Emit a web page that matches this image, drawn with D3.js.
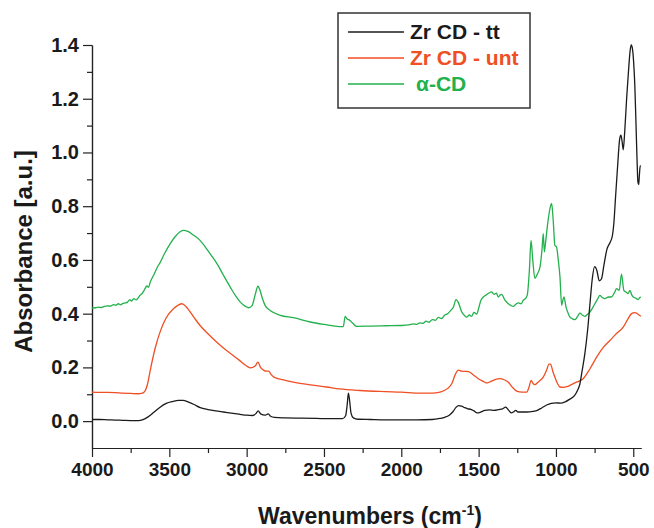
<!DOCTYPE html>
<html>
<head>
<meta charset="utf-8">
<script src="https://cdn.jsdelivr.net/npm/d3@7"></script>
<style>
  body { margin: 0; background: #fff; }
  svg text { font-family: "Liberation Sans", Arial, sans-serif; font-weight: bold; }
</style>
</head>
<body>
<div id="chart"></div>
<script>
// data
var seriesNames = ["Zr CD - tt", "Zr CD - unt", "\u03b1-CD"];
var seriesColors = ["#1b1b1b", "#f04e23", "#22b14c"];

var yTicks = [0.0, 0.2, 0.4, 0.6, 0.8, 1.0, 1.2, 1.4];
var xTicks = [4000, 3500, 3000, 2500, 2000, 1500, 1000, 500];

var ttWave = [4000,3950,3900,3850,3800,3750,3700,3670,3640,3600,3560,3520,3480,3440,3410,3380,3340,3300,3250,3200,3150,3100,3050,3000,2960,2940,2925,2910,2880,2860,2845,2820,2750,2650,2550,2450,2380,2360,2350,2342,2334,2325,2310,2280,2200,2100,2000,1900,1800,1750,1720,1690,1665,1645,1630,1610,1590,1570,1550,1530,1510,1490,1460,1430,1400,1370,1345,1325,1305,1290,1275,1260,1245,1230,1190,1150,1120,1090,1060,1030,1000,970,940,910,880,860,845,830,813,795,780,765,750,735,720,705,690,670,650,635,625,615,600,588,580,572,565,555,543,530,520,513,505,498,490,483,476,470,465,460,455,451];
var ttAbs = [0.006,0.006,0.005,0.004,0.003,0.002,0.002,0.006,0.015,0.033,0.052,0.066,0.073,0.077,0.077,0.072,0.062,0.05,0.043,0.038,0.034,0.03,0.026,0.022,0.021,0.028,0.038,0.027,0.022,0.027,0.018,0.014,0.012,0.011,0.01,0.009,0.009,0.02,0.06,0.104,0.075,0.03,0.012,0.007,0.006,0.005,0.005,0.005,0.006,0.01,0.014,0.022,0.036,0.052,0.058,0.056,0.05,0.046,0.044,0.038,0.031,0.033,0.04,0.042,0.04,0.043,0.046,0.052,0.04,0.031,0.034,0.04,0.034,0.034,0.034,0.036,0.04,0.05,0.06,0.066,0.068,0.067,0.072,0.082,0.095,0.115,0.139,0.19,0.251,0.34,0.437,0.53,0.575,0.56,0.522,0.53,0.58,0.64,0.665,0.69,0.74,0.83,0.96,1.05,1.064,1.04,1.01,1.08,1.2,1.31,1.38,1.40,1.385,1.34,1.25,1.12,0.98,0.89,0.88,0.92,0.95,0.95];

var untWave = [4000,3950,3900,3850,3800,3750,3700,3680,3660,3640,3623,3590,3558,3520,3472,3440,3418,3390,3343,3300,3250,3200,3150,3100,3050,3000,2975,2945,2927,2910,2891,2870,2858,2840,2820,2750,2697,2600,2481,2400,2266,2100,2000,1880,1800,1750,1700,1674,1650,1631,1610,1580,1556,1530,1502,1470,1448,1420,1390,1362,1335,1308,1280,1254,1220,1189,1175,1160,1148,1136,1110,1082,1060,1045,1035,1020,1007,990,974,950,931,900,867,824,780,737,700,651,610,565,535,511,490,479,465,451];
var untAbs = [0.108,0.107,0.107,0.106,0.104,0.103,0.102,0.103,0.11,0.14,0.19,0.275,0.335,0.385,0.419,0.433,0.437,0.425,0.388,0.355,0.325,0.297,0.272,0.25,0.228,0.205,0.198,0.205,0.22,0.2,0.19,0.186,0.186,0.172,0.163,0.152,0.145,0.136,0.127,0.12,0.114,0.11,0.108,0.104,0.104,0.108,0.122,0.139,0.175,0.19,0.186,0.185,0.182,0.17,0.158,0.148,0.142,0.148,0.155,0.158,0.154,0.145,0.125,0.112,0.108,0.108,0.125,0.152,0.14,0.136,0.148,0.164,0.19,0.212,0.212,0.185,0.164,0.14,0.127,0.126,0.128,0.136,0.145,0.158,0.195,0.238,0.27,0.3,0.325,0.35,0.38,0.4,0.404,0.402,0.396,0.39];

var cdWave = [4000,3980,3960,3940,3920,3900,3880,3860,3845,3830,3815,3800,3785,3770,3755,3745,3730,3715,3700,3690,3676,3660,3645,3635,3623,3600,3580,3558,3530,3494,3460,3430,3408,3380,3343,3300,3267,3230,3192,3150,3106,3070,3041,3010,2988,2965,2945,2927,2915,2900,2880,2848,2783,2697,2589,2500,2400,2375,2363,2350,2335,2315,2290,2200,2100,2000,1950,1920,1900,1880,1860,1840,1820,1800,1780,1760,1740,1720,1700,1680,1663,1646,1630,1609,1590,1577,1560,1545,1530,1512,1500,1485,1470,1450,1430,1416,1400,1385,1373,1360,1351,1330,1308,1290,1276,1260,1243,1225,1211,1195,1185,1172,1161,1150,1136,1120,1103,1090,1082,1075,1068,1056,1045,1035,1028,1018,1007,996,985,974,963,955,948,935,920,909,890,877,860,845,830,813,795,780,765,748,730,716,700,684,660,641,620,608,591,576,561,545,533,522,510,500,485,468,458,451];
var cdAbs = [0.421,0.422,0.424,0.423,0.427,0.429,0.428,0.434,0.431,0.437,0.433,0.438,0.44,0.443,0.452,0.447,0.456,0.451,0.46,0.468,0.475,0.49,0.503,0.498,0.518,0.545,0.57,0.592,0.625,0.661,0.688,0.705,0.71,0.706,0.692,0.672,0.648,0.618,0.586,0.543,0.499,0.465,0.443,0.428,0.422,0.43,0.47,0.502,0.49,0.46,0.43,0.412,0.394,0.385,0.369,0.36,0.352,0.352,0.39,0.38,0.376,0.365,0.353,0.354,0.355,0.356,0.358,0.362,0.36,0.366,0.364,0.372,0.368,0.378,0.375,0.386,0.382,0.394,0.4,0.412,0.425,0.452,0.44,0.406,0.392,0.387,0.395,0.39,0.405,0.398,0.42,0.45,0.462,0.47,0.478,0.481,0.472,0.476,0.462,0.47,0.472,0.45,0.437,0.43,0.427,0.435,0.44,0.437,0.45,0.458,0.47,0.56,0.673,0.6,0.531,0.548,0.574,0.64,0.698,0.63,0.66,0.723,0.77,0.8,0.81,0.75,0.655,0.648,0.6,0.537,0.431,0.45,0.462,0.425,0.4,0.387,0.38,0.378,0.39,0.402,0.395,0.39,0.398,0.406,0.42,0.437,0.455,0.468,0.46,0.456,0.462,0.462,0.48,0.493,0.487,0.547,0.487,0.48,0.475,0.487,0.47,0.462,0.458,0.452,0.46,0.462];

var waves = [ttWave, untWave, cdWave];
var absorb = [ttAbs, untAbs, cdAbs];

var svgWidth = 654;
var svgHeight = 528;
var margin = { top: 45, right: 13, bottom: 80, left: 92 };
var width = svgWidth - margin.left - margin.right;
var height = svgHeight - margin.top - margin.bottom;

var svg = d3.select("#chart")
  .append("svg")
  .attr("width", svgWidth)
  .attr("height", svgHeight);

var chartGroup = svg.append("g")
  .attr("transform", `translate(${margin.left}, ${margin.top})`);

var xScale = d3.scaleLinear().domain([4000, 450]).range([0, width]);
var yScale = d3.scaleLinear().domain([-0.1, 1.4]).range([height, 0]);

// minor ticks first, then the major axis on top
var xMinor = d3.range(3750, 450, -500);
var yMinor = d3.range(0.1, 1.4, 0.2);

chartGroup.append("g")
  .attr("class", "axis")
  .attr("transform", `translate(0, ${height})`)
  .call(d3.axisBottom(xScale).tickValues(xMinor).tickSize(5).tickSizeOuter(0).tickFormat(""));

chartGroup.append("g")
  .attr("class", "axis")
  .call(d3.axisLeft(yScale).tickValues(yMinor).tickSize(5).tickSizeOuter(0).tickFormat(""));

var bottomAxis = d3.axisBottom(xScale).tickValues(xTicks).tickSize(9).tickSizeOuter(0).tickPadding(6).tickFormat(d3.format("d"));
var leftAxis = d3.axisLeft(yScale).tickValues(yTicks).tickSize(9).tickSizeOuter(0).tickPadding(4).tickFormat(d3.format(".1f"));

chartGroup.append("g")
  .attr("class", "axis xaxis")
  .attr("transform", `translate(0, ${height})`)
  .call(bottomAxis);

chartGroup.append("g")
  .attr("class", "axis yaxis")
  .call(leftAxis);

chartGroup.selectAll(".axis path, .axis line")
  .attr("stroke", "#222")
  .attr("stroke-width", 1.2);
chartGroup.selectAll(".xaxis text")
  .attr("fill", "#1a1a1a")
  .style("font-size", "19px");
chartGroup.selectAll(".yaxis text")
  .attr("fill", "#1a1a1a")
  .style("font-size", "20px");

// spectra
var line = d3.line()
  .x(d => xScale(d[0]))
  .y(d => yScale(d[1]))
  .curve(d3.curveMonotoneX);

[2, 1, 0].forEach(function(i) {
  var pts = waves[i].map((w, j) => [w, absorb[i][j]]);
  chartGroup.append("path")
    .datum(pts)
    .attr("fill", "none")
    .attr("stroke", seriesColors[i])
    .attr("stroke-width", 1.3)
    .attr("stroke-linejoin", "round")
    .attr("d", line);
});

// legend
var legend = svg.append("g").attr("transform", "translate(338, 13)");
legend.append("rect")
  .attr("width", 192)
  .attr("height", 95)
  .attr("fill", "#fff")
  .attr("stroke", "#333")
  .attr("stroke-width", 1.5);

seriesNames.forEach(function(name, i) {
  var y = 19 + i * 26;
  legend.append("line")
    .attr("x1", 10).attr("x2", 66)
    .attr("y1", y).attr("y2", y)
    .attr("stroke", seriesColors[i])
    .attr("stroke-width", 1.3);
  legend.append("text")
    .attr("x", i == 2 ? 78 : 72)
    .attr("y", y + 7)
    .attr("fill", seriesColors[i])
    .style("font-size", "21px")
    .text(name);
});

// axis labels
svg.append("text")
  .attr("transform", `translate(32, ${margin.top + height / 2 + 5}) rotate(-90)`)
  .attr("text-anchor", "middle")
  .attr("fill", "#1a1a1a")
  .style("font-size", "24px")
  .text("Absorbance [a.u.]");

var xtitle = svg.append("text")
  .attr("x", 370)
  .attr("y", 524)
  .attr("text-anchor", "middle")
  .attr("fill", "#1a1a1a")
  .style("font-size", "23px");
xtitle.append("tspan").text("Wavenumbers (cm");
xtitle.append("tspan").attr("dy", -9).style("font-size", "14px").text("-1");
xtitle.append("tspan").attr("dy", 9).text(")");
</script>
</body>
</html>
